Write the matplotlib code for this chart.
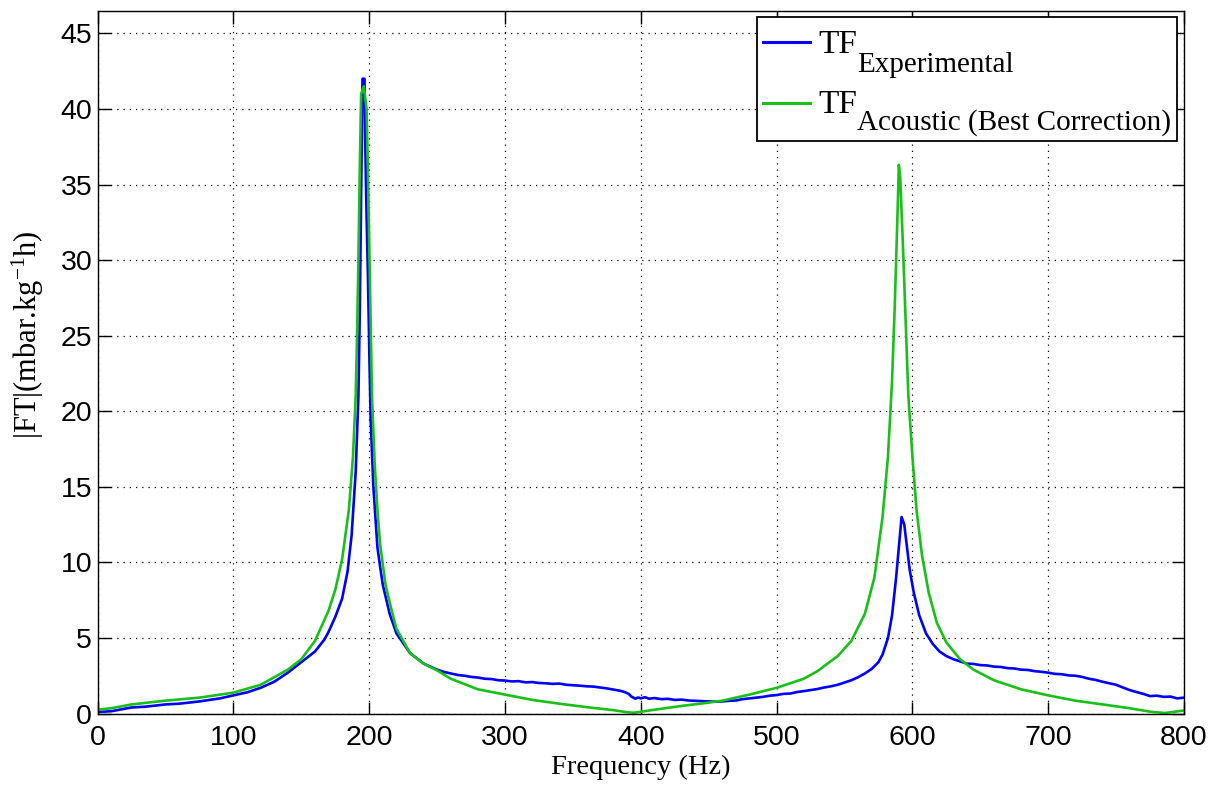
import matplotlib
matplotlib.use("Agg")
import matplotlib.pyplot as plt
from matplotlib.lines import Line2D
from matplotlib.patches import Rectangle

# ---- data ----
freq_exp = [0, 10, 25, 35, 50, 60, 75, 90, 100, 110, 120, 130, 140, 150, 160, 167, 170, 175, 180,
            184, 187, 190, 192, 193, 194, 195, 196.5, 197, 198, 199, 200, 201, 203, 206, 208, 210,
            215, 220, 230, 240, 250, 255, 260, 265, 270, 275, 280, 285, 290, 295, 300, 305, 310,
            315, 320, 325, 330, 335, 340, 345, 350, 355, 360, 365, 370, 375, 380, 385, 388, 391,
            393, 396, 398, 400, 403, 406, 410, 415, 420, 425, 430, 435, 440, 445, 450, 455, 460,
            465, 470, 475, 480, 485, 490, 495, 500, 505, 510, 515, 520, 525, 530, 535, 540, 545,
            550, 555, 560, 565, 570, 575, 578, 582, 585, 588, 590, 592, 594, 596, 598, 601, 605,
            610, 615, 620, 625, 630, 635, 640, 645, 650, 655, 660, 665, 670, 675, 680, 685, 690,
            695, 700, 705, 710, 715, 720, 725, 730, 735, 740, 745, 750, 755, 760, 765, 770, 775,
            780, 785, 790, 795, 800]
tf_exp = [0.1, 0.15, 0.4, 0.45, 0.6, 0.65, 0.8, 1.0, 1.2, 1.4, 1.7, 2.1, 2.7, 3.4, 4.1, 4.9, 5.4,
          6.4, 7.6, 9.4, 11.8, 16.0, 21.0, 26.5, 34.0, 42.0, 42.0, 38.0, 33.0, 29.0, 24.0, 19.5,
          15.0, 11.0, 9.7, 8.5, 6.6, 5.3, 4.0, 3.3, 2.9, 2.75, 2.65, 2.55, 2.5, 2.42, 2.38, 2.3,
          2.28, 2.2, 2.18, 2.12, 2.14, 2.06, 2.08, 2.02, 2.0, 1.96, 1.98, 1.9, 1.87, 1.84, 1.8,
          1.78, 1.72, 1.66, 1.58, 1.5, 1.42, 1.3, 1.12, 0.98, 1.06, 1.0, 1.08, 0.98, 1.02, 0.95,
          0.97, 0.9, 0.92, 0.86, 0.84, 0.82, 0.8, 0.78, 0.8, 0.84, 0.86, 0.95, 1.0, 1.05, 1.1,
          1.18, 1.22, 1.3, 1.32, 1.42, 1.48, 1.55, 1.62, 1.72, 1.8, 1.9, 2.05, 2.2, 2.4, 2.65,
          2.95, 3.4, 3.9, 5.0, 6.5, 9.0, 11.0, 13.0, 12.5, 11.0, 9.5, 8.0, 6.5, 5.3, 4.6, 4.1,
          3.8, 3.6, 3.45, 3.3, 3.28, 3.2, 3.18, 3.1, 3.08, 3.0, 2.98, 2.9, 2.88, 2.8, 2.76, 2.7,
          2.62, 2.6, 2.52, 2.5, 2.42, 2.3, 2.22, 2.1, 2.0, 1.9, 1.72, 1.55, 1.42, 1.3, 1.15,
          1.18, 1.1, 1.12, 1.0, 1.05]

freq_ac = [0, 10, 25, 50, 75, 100, 120, 140, 150, 160, 170, 175, 180, 185, 188, 190, 191, 192,
           193, 194, 196, 198, 199, 200, 201, 202, 204, 206, 208, 212, 216, 220, 230, 240, 250,
           260, 280, 300, 320, 340, 360, 380, 390, 395, 410, 430, 450, 460, 480, 500, 520, 530,
           545, 555, 565, 572, 578, 582, 585, 587, 589, 590, 591, 593, 595, 597, 600, 603, 607,
           612, 618, 625, 635, 645, 660, 680, 700, 720, 740, 760, 775, 786, 800]
tf_ac = [0.25, 0.35, 0.6, 0.85, 1.05, 1.38, 1.9, 2.9, 3.6, 4.8, 6.8, 8.2, 10.2, 13.5, 17.0, 21.0,
         25.0, 30.0, 36.0, 41.0, 41.5, 40.0, 36.0, 31.0, 26.0, 21.0, 16.5, 13.5, 11.2, 8.5, 7.0,
         5.6, 4.0, 3.3, 2.85, 2.3, 1.6, 1.25, 0.9, 0.65, 0.42, 0.22, 0.08, 0.05, 0.25, 0.5, 0.72,
         0.85, 1.25, 1.7, 2.3, 2.8, 3.8, 4.8, 6.6, 9.0, 13.0, 17.0, 22.0, 27.0, 33.0, 36.3, 35.5,
         31.0, 26.0, 21.0, 17.0, 13.5, 10.5, 8.0, 6.0, 4.7, 3.6, 2.9, 2.2, 1.6, 1.2, 0.85, 0.6,
         0.35, 0.12, 0.03, 0.2]

x_ticks = [0, 100, 200, 300, 400, 500, 600, 700, 800]
y_ticks = [0, 5, 10, 15, 20, 25, 30, 35, 40, 45]
legend_main = ['TF', 'TF']
legend_sub = ['Experimental', 'Acoustic (Best Correction)']

BLUE = '#0000ff'
GREEN = '#18c018'

plt.rcParams['mathtext.fontset'] = 'custom'
plt.rcParams['mathtext.rm'] = 'Liberation Serif'
plt.rcParams['mathtext.it'] = 'Liberation Serif:italic'

W, H = 1219, 792
AX_L, AX_R, AX_T, AX_B = 97.7, 1184.0, 10.7, 713.5
fig = plt.figure(figsize=(W / 100, H / 100), dpi=100)
ax = fig.add_axes([AX_L / W, (H - AX_B) / H, (AX_R - AX_L) / W, (AX_B - AX_T) / H])


def axfrac(px, py):
    """pixel position (from top-left of figure) -> axes fraction"""
    return (px - AX_L) / (AX_R - AX_L), (AX_B - py) / (AX_B - AX_T)


ax.plot(freq_exp, tf_exp, color=BLUE, lw=1.9)
ax.plot(freq_ac, tf_ac, color=GREEN, lw=1.9)

ax.set_xlim(0, 800)
ax.set_ylim(0, 46.5)
ax.set_xticks(x_ticks)
ax.set_yticks(y_ticks)
ax.tick_params(direction='in', length=9, width=1, top=True, right=True, labelsize=20.5)
ax.tick_params(axis='x', pad=8)
ax.tick_params(axis='y', pad=4)
for lab in ax.get_xticklabels() + ax.get_yticklabels():
    lab.set_family('Liberation Sans')
ax.grid(True, linestyle=(0, (1, 4)), color='black', linewidth=0.9)
for s in ax.spines.values():
    s.set_linewidth(1.0)

ax.set_xlabel('Frequency (Hz)', family='Liberation Serif', fontsize=20.5, labelpad=3)
ax.set_ylabel(r'|FT|(mbar.kg$^{-1}$h)', family='Liberation Serif', fontsize=22)
lx, ly = axfrac(46, 335)
ax.yaxis.set_label_coords(lx, ly)

# ---- legend (MATLAB style, large subscripts) ----
x0, y0 = axfrac(757, 141)
x1, y1 = axfrac(1177, 17)
ax.add_patch(Rectangle((x0, y0), x1 - x0, y1 - y0, transform=ax.transAxes,
                       facecolor='white', edgecolor='black', lw=1.3, zorder=10))
entries = [(BLUE, 41.7, 53.3, 71.7), (GREEN, 102.7, 113.0, 130.0)]
for (col, lyy_px, tb, sb), main, sub in zip(entries, legend_main, legend_sub):
    lx0, lyy = axfrac(763, lyy_px)
    lx1, _ = axfrac(810, lyy_px)
    ax.add_line(Line2D([lx0, lx1], [lyy, lyy], color=col, lw=2.2,
                       transform=ax.transAxes, zorder=11))
    tx, ty = axfrac(818, tb)
    ax.text(tx, ty, main, transform=ax.transAxes, family='Liberation Serif',
            fontsize=24, va='baseline', ha='left', zorder=12)
    sx, sy = axfrac(857, sb)
    ax.text(sx, sy, sub, transform=ax.transAxes, family='Liberation Serif',
            fontsize=21, va='baseline', ha='left', zorder=12)

fig.savefig('out.png', dpi=100)
